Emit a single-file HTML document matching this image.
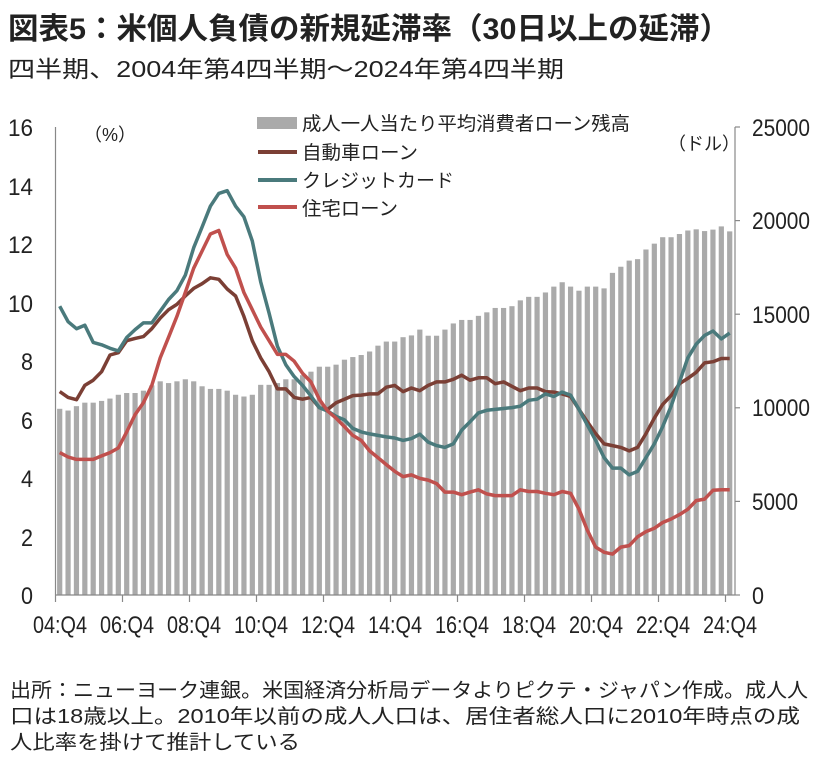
<!DOCTYPE html>
<html><head><meta charset="utf-8">
<style>
body{margin:0;background:#fff;}
svg{display:block;}
.t{font-family:"Liberation Sans","Noto Sans CJK JP",sans-serif;fill:#222;}
.n{font-family:"Liberation Sans Narrow","Liberation Sans",sans-serif;fill:#222;}
</style></head><body>
<svg id="s" width="820" height="757" xmlns="http://www.w3.org/2000/svg">
<text class="t" x="8" y="39" font-size="30" font-weight="bold" textLength="722" lengthAdjust="spacingAndGlyphs">図表5：米個人負債の新規延滞率（30日以上の延滞）</text>
<text class="t" x="8" y="77" font-size="23" textLength="556" lengthAdjust="spacingAndGlyphs">四半期、2004年第4四半期～2024年第4四半期</text>
<g id="bars" fill="#aaaaaa"></g>
<g id="lines" fill="none" stroke-width="3.5" stroke-linejoin="round"></g>
<g stroke="#888" stroke-width="1.2">
<line x1="55.5" y1="127" x2="55.5" y2="595"/>
<line x1="55.5" y1="595" x2="735" y2="595"/>
<line x1="735" y1="127" x2="735" y2="595"/>
<line x1="735" y1="127" x2="740" y2="127"/><line x1="735" y1="220.6" x2="740" y2="220.6"/>
<line x1="735" y1="314.2" x2="740" y2="314.2"/><line x1="735" y1="407.8" x2="740" y2="407.8"/>
<line x1="735" y1="501.4" x2="740" y2="501.4"/><line x1="735" y1="595" x2="740" y2="595"/>
<g id="xt"></g>
</g>
<g class="n" font-size="24" text-anchor="end" lengthAdjust="spacingAndGlyphs">
<text x="33" y="136" textLength="25" lengthAdjust="spacingAndGlyphs">16</text><text x="33" y="195" textLength="25" lengthAdjust="spacingAndGlyphs">14</text><text x="33" y="253" textLength="25" lengthAdjust="spacingAndGlyphs">12</text>
<text x="33" y="312" textLength="25" lengthAdjust="spacingAndGlyphs">10</text><text x="33" y="370" textLength="12" lengthAdjust="spacingAndGlyphs">8</text><text x="33" y="429" textLength="12" lengthAdjust="spacingAndGlyphs">6</text>
<text x="33" y="487" textLength="12" lengthAdjust="spacingAndGlyphs">4</text><text x="33" y="546" textLength="12" lengthAdjust="spacingAndGlyphs">2</text><text x="33" y="604" textLength="12" lengthAdjust="spacingAndGlyphs">0</text>
</g>
<g class="n" font-size="24" text-anchor="start">
<text x="752" y="136" textLength="58" lengthAdjust="spacingAndGlyphs">25000</text><text x="752" y="229" textLength="58" lengthAdjust="spacingAndGlyphs">20000</text><text x="752" y="323" textLength="58" lengthAdjust="spacingAndGlyphs">15000</text>
<text x="752" y="416" textLength="58" lengthAdjust="spacingAndGlyphs">10000</text><text x="752" y="510" textLength="46" lengthAdjust="spacingAndGlyphs">5000</text><text x="752" y="604" textLength="12" lengthAdjust="spacingAndGlyphs">0</text>
</g>
<g class="n" font-size="24">
<text x="33" y="633" textLength="54" lengthAdjust="spacingAndGlyphs">04:Q4</text><text x="100" y="633" textLength="54" lengthAdjust="spacingAndGlyphs">06:Q4</text><text x="167" y="633" textLength="54" lengthAdjust="spacingAndGlyphs">08:Q4</text>
<text x="234" y="633" textLength="54" lengthAdjust="spacingAndGlyphs">10:Q4</text><text x="301" y="633" textLength="54" lengthAdjust="spacingAndGlyphs">12:Q4</text><text x="368" y="633" textLength="54" lengthAdjust="spacingAndGlyphs">14:Q4</text>
<text x="435" y="633" textLength="54" lengthAdjust="spacingAndGlyphs">16:Q4</text><text x="502" y="633" textLength="54" lengthAdjust="spacingAndGlyphs">18:Q4</text><text x="569" y="633" textLength="54" lengthAdjust="spacingAndGlyphs">20:Q4</text>
<text x="636" y="633" textLength="54" lengthAdjust="spacingAndGlyphs">22:Q4</text><text x="703" y="633" textLength="54" lengthAdjust="spacingAndGlyphs">24:Q4</text>
</g>
<text class="t" x="84" y="141" font-size="18">（%）</text>
<text class="t" x="668" y="150" font-size="18">（ドル）</text>
<rect x="257" y="117" width="40" height="12" fill="#aaaaaa"/>
<line x1="258" y1="152" x2="297" y2="152" stroke="#7b3f35" stroke-width="4"/>
<line x1="258" y1="180" x2="297" y2="180" stroke="#4a7a7c" stroke-width="4"/>
<line x1="258" y1="207" x2="297" y2="207" stroke="#c0504d" stroke-width="4"/>
<g class="t" font-size="19">
<text x="302" y="130" textLength="328" lengthAdjust="spacingAndGlyphs">成人一人当たり平均消費者ローン残高</text>
<text x="302" y="159" textLength="116" lengthAdjust="spacingAndGlyphs">自動車ローン</text>
<text x="302" y="187" textLength="152" lengthAdjust="spacingAndGlyphs">クレジットカード</text>
<text x="302" y="215" textLength="96" lengthAdjust="spacingAndGlyphs">住宅ローン</text>
</g>
<g class="t" font-size="20">
<text x="10" y="697" textLength="798" lengthAdjust="spacingAndGlyphs">出所：ニューヨーク連銀。米国経済分析局データよりピクテ・ジャパン作成。成人人</text>
<text x="10" y="723" textLength="790" lengthAdjust="spacingAndGlyphs">口は18歳以上。2010年以前の成人人口は、居住者総人口に2010年時点の成</text>
<text x="10" y="749" textLength="290" lengthAdjust="spacingAndGlyphs">人比率を掛けて推計している</text>
</g>
</svg>
<script>
var bars=[6.36,6.3,6.45,6.57,6.57,6.63,6.71,6.84,6.9,6.9,6.98,7.16,7.3,7.24,7.3,7.37,7.3,7.13,7.04,7.04,6.98,6.84,6.78,6.84,7.18,7.18,7.24,7.37,7.37,7.51,7.63,7.8,7.8,7.87,8.04,8.13,8.2,8.32,8.52,8.66,8.66,8.81,8.87,9.07,8.86,8.86,9.07,9.28,9.4,9.4,9.54,9.66,9.81,9.81,9.87,10.07,10.19,10.19,10.34,10.54,10.69,10.54,10.4,10.54,10.54,10.48,11.01,11.22,11.43,11.48,11.81,12.01,12.23,12.23,12.34,12.46,12.5,12.44,12.49,12.6,12.43];
var cc=[9.87,9.34,9.1,9.22,8.63,8.55,8.43,8.34,8.8,9.07,9.3,9.3,9.7,10.1,10.4,10.93,11.87,12.58,13.29,13.73,13.82,13.29,12.93,12.1,10.7,9.63,8.5,7.87,7.46,7.16,6.8,6.4,6.28,6.1,5.98,5.69,5.57,5.5,5.45,5.4,5.36,5.28,5.34,5.49,5.22,5.1,5.04,5.16,5.63,5.92,6.22,6.31,6.34,6.37,6.4,6.45,6.65,6.69,6.87,6.78,6.93,6.83,6.34,5.81,5.28,4.69,4.33,4.33,4.1,4.22,4.69,5.16,5.75,6.45,7.28,8.1,8.57,8.87,9.02,8.75,8.95];
var auto=[6.95,6.75,6.67,7.16,7.34,7.63,8.2,8.28,8.69,8.77,8.83,9.1,9.46,9.75,9.93,10.22,10.48,10.64,10.84,10.79,10.46,10.22,9.52,8.69,8.1,7.63,7.04,7.04,6.75,6.69,6.75,6.4,6.34,6.57,6.69,6.81,6.83,6.87,6.87,7.1,7.16,6.95,7.07,6.98,7.16,7.28,7.28,7.37,7.51,7.34,7.42,7.42,7.22,7.28,7.13,6.98,7.07,7.07,6.95,6.93,6.87,6.78,6.34,5.92,5.51,5.16,5.1,5.04,4.92,5.04,5.51,6.04,6.51,6.81,7.22,7.4,7.61,7.93,7.97,8.08,8.08];
var mort=[4.86,4.71,4.63,4.63,4.63,4.75,4.86,5.02,5.57,6.16,6.57,7.16,8.1,8.81,9.52,10.34,11.17,11.76,12.34,12.46,11.64,11.17,10.34,9.75,9.16,8.69,8.22,8.22,7.99,7.57,7.28,6.69,6.28,6.04,5.75,5.45,5.28,4.92,4.69,4.45,4.22,4.04,4.1,3.98,3.92,3.8,3.51,3.51,3.42,3.51,3.59,3.45,3.39,3.39,3.39,3.59,3.53,3.53,3.47,3.42,3.53,3.47,2.92,2.21,1.63,1.45,1.39,1.63,1.68,1.98,2.16,2.27,2.47,2.59,2.74,2.92,3.22,3.27,3.57,3.59,3.59];
var NS="http://www.w3.org/2000/svg";
function X(i){return 59.7+8.375*i;}
function Y(v){return 594.7-v*29.23;}
var bg=document.getElementById("bars");
bars.forEach(function(v,i){var r=document.createElementNS(NS,"rect");r.setAttribute("x",X(i)-2.6);r.setAttribute("y",Y(v));r.setAttribute("width",5.2);r.setAttribute("height",594.7-Y(v));bg.appendChild(r);});
var lg=document.getElementById("lines");
[[auto,"#7b3f35"],[cc,"#4a7a7c"],[mort,"#c0504d"]].forEach(function(s){var d=s[0].map(function(v,i){return (i?"L":"M")+X(i).toFixed(1)+","+Y(v).toFixed(1);}).join("");var p=document.createElementNS(NS,"path");p.setAttribute("d",d);p.setAttribute("stroke",s[1]);lg.appendChild(p);});
var xt=document.getElementById("xt");
for(var k=0;k<=10;k++){var l=document.createElementNS(NS,"line");var x=55.5+67*k;l.setAttribute("x1",x);l.setAttribute("x2",x);l.setAttribute("y1",595);l.setAttribute("y2",602);xt.appendChild(l);}
</script>
</body></html>
